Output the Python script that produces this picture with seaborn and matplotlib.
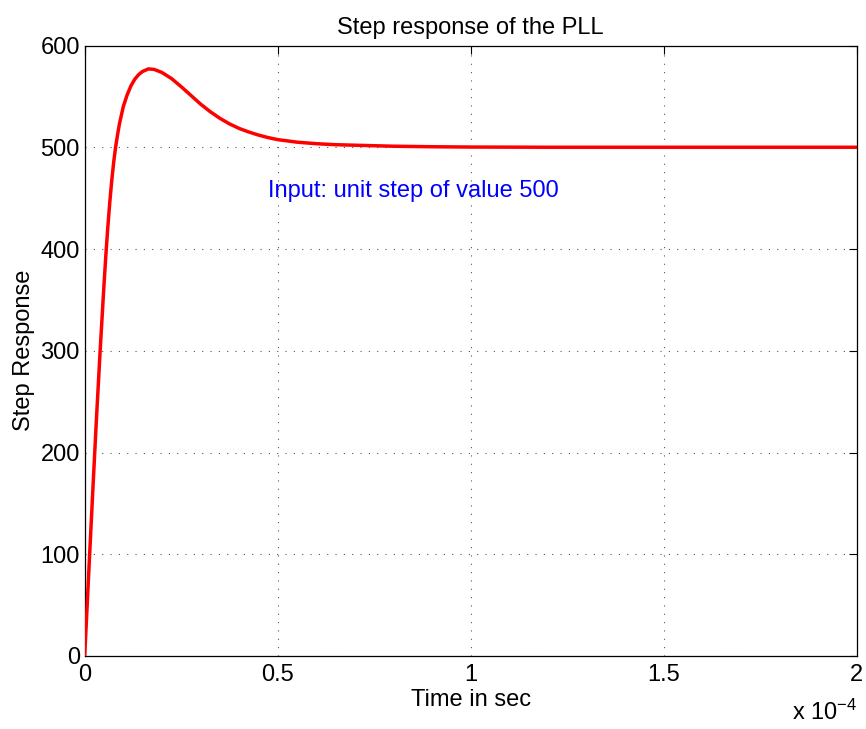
import matplotlib
matplotlib.use("Agg")
import matplotlib.pyplot as plt
import seaborn as sns
import pandas as pd

# Time in units of 1e-4 s
time_e4 = [0.0, 0.01, 0.02, 0.03, 0.04, 0.05, 0.055, 0.06, 0.065, 0.07,
           0.075, 0.08, 0.085, 0.09, 0.10, 0.11, 0.12, 0.13, 0.14, 0.15,
           0.165, 0.18, 0.20, 0.225, 0.25, 0.275, 0.30, 0.325, 0.35, 0.375,
           0.40, 0.425, 0.45, 0.475, 0.50, 0.55, 0.60, 0.65, 0.70, 0.80,
           0.90, 1.00, 1.20, 1.50, 2.00]
response = [0, 78, 155, 230, 300, 365, 395, 422, 446, 467,
            485, 500, 512, 523, 540, 551.5, 560.5, 567, 571.5, 574.5,
            577, 576.5, 573.5, 567.5, 559.5, 551, 542.5, 535, 528.5, 523,
            518.5, 515, 512, 509.5, 507.5, 505, 503.5, 502.5, 502, 501,
            500.5, 500.2, 500, 500, 500]

x_ticks = [0, 0.5, 1, 1.5, 2]
x_tick_labels = ["0", "0.5", "1", "1.5", "2"]
y_ticks = [0, 100, 200, 300, 400, 500, 600]

title = "Step response of the PLL"
x_label = "Time in sec"
y_label = "Step Response"
note = "Input: unit step of value 500"
note_x, note_y = 0.475, 451

sns.set_style("white")
plt.rcParams["font.family"] = ["Liberation Sans", "DejaVu Sans"]
plt.rcParams["mathtext.fontset"] = "custom"
plt.rcParams["mathtext.rm"] = "Liberation Sans"
plt.rcParams["mathtext.it"] = "Liberation Sans:italic"
plt.rcParams["axes.unicode_minus"] = True
plt.rcParams["text.color"] = "black"
plt.rcParams["axes.labelcolor"] = "black"
plt.rcParams["xtick.color"] = "black"
plt.rcParams["ytick.color"] = "black"

W, H = 866, 729
fig = plt.figure(figsize=(W / 100, H / 100), dpi=100)
fig.patch.set_facecolor("white")
left, right, top, bottom = 84.7, 856.7, 45.5, 656.0
ax = fig.add_axes([left / W, 1 - bottom / H, (right - left) / W, (bottom - top) / H])

df = pd.DataFrame({"t": time_e4, "y": response})
sns.lineplot(data=df, x="t", y="y", color="#ff0000", linewidth=2.5, ax=ax,
             zorder=3, sort=False)

ax.set_xlim(0, 2)
ax.set_ylim(0, 600)
ax.set_xticks(x_ticks)
ax.set_xticklabels(x_tick_labels)
ax.set_yticks(y_ticks)

fs = 17
ax.tick_params(axis="both", which="both", direction="in", length=6, width=0.8,
               colors="black", labelsize=fs, top=True, right=True)
ax.tick_params(axis="x", pad=6)
ax.tick_params(axis="y", pad=3.5)

for s in ax.spines.values():
    s.set_visible(True)
    s.set_color("black")
    s.set_linewidth(0.9)

ax.grid(True, color="#555555", linewidth=0.8, linestyle=(0, (1, 6.5)))
ax.set_axisbelow(True)

ax.set_title(title, fontsize=fs, pad=8, color="black")
ax.set_xlabel(x_label, fontsize=fs, labelpad=2, color="black")
ax.set_ylabel(y_label, fontsize=fs, labelpad=4, color="black")

ax.text(note_x, note_y, note, color="#0000ff", fontsize=fs, ha="left", va="baseline")

fig.text(857 / W, 1 - 720 / H, r"x 10$^{-4}$", fontsize=fs, ha="right",
         va="baseline", color="black")

fig.savefig("out.png", dpi=100, facecolor="white")
